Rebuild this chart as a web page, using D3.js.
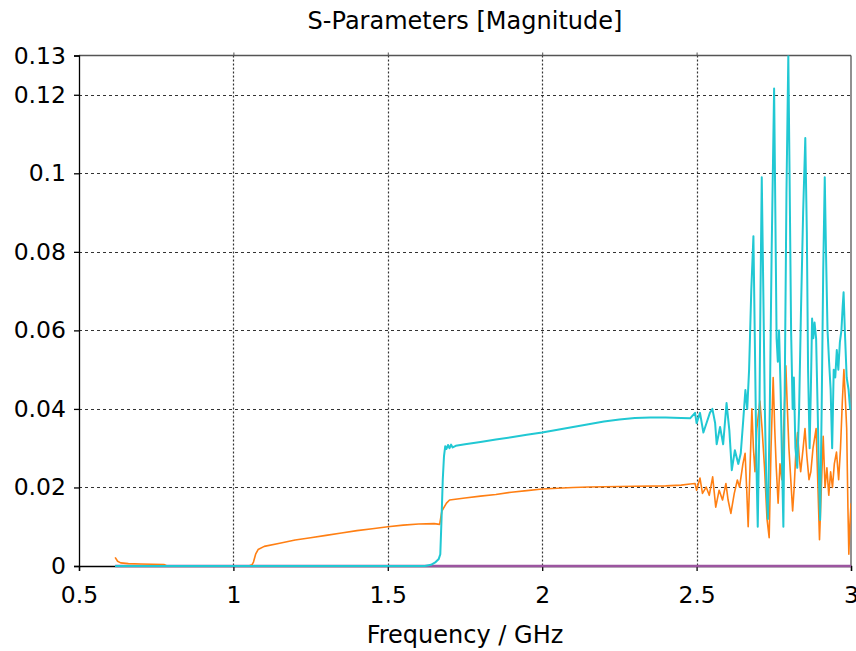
<!DOCTYPE html>
<html>
<head>
<meta charset="utf-8">
<script src="https://d3js.org/d3.v7.min.js"></script>
<style type="text/css">
body {margin:0;background:#fff;}
svg {display:block;font-family:"DejaVu Sans",Verdana,sans-serif;}
.grid line {stroke:#333;stroke-width:1.2;}
</style>
</head>
<body>
<svg id="chart" width="856" height="651"></svg>

<script type="text/javascript">
// frequency (GHz) and magnitude
var cyanFreq = [0.617,1.62,1.64,1.655,1.665,1.670,1.674,1.678,1.682,1.686,1.690,1.695,1.700,1.705,1.710,1.72,1.75,1.80,1.85,1.90,1.95,2.00,2.05,2.10,2.15,2.20,2.25,2.30,2.35,2.40,2.45,2.479,2.495,
	2.500,2.511,2.522,2.533,2.543,2.551,2.560,2.565,2.576,2.586,2.597,2.606,2.614,2.624,2.635,2.643,2.651,2.658,2.664,2.670,2.677,2.684,2.689,2.694,2.698,2.703,2.707,2.711,2.716,2.721,2.726,2.731,2.737,2.743,
	2.751,2.755,2.759,2.763,2.767,2.772,2.777,2.781,2.786,2.791,2.797,2.801,2.806,2.811,2.815,2.820,2.826,2.832,2.838,2.845,2.852,2.857,2.861,2.866,2.870,2.874,2.878,2.882,2.887,2.892,2.897,2.900,
	2.905,2.910,2.915,2.919,2.924,2.929,2.934,2.939,2.944,2.949,2.954,2.959,2.964,2.969,2.973,2.976,2.980,2.986,2.992,2.997,3.000];
var cyanMag = [0,0,0.0003,0.001,0.0018,0.003,0.012,0.022,0.028,0.0305,0.0298,0.0308,0.0300,0.0309,0.0302,0.0306,0.0310,0.0316,0.0322,0.0328,0.0334,0.0340,0.0347,0.0354,0.0361,0.0368,0.0373,0.0377,0.0378,0.0378,0.0377,0.0376,0.039,
	0.0364,0.039,0.034,0.0366,0.039,0.040,0.0364,0.031,0.0354,0.031,0.0415,0.0346,0.0244,0.0295,0.026,0.0287,0.0371,0.0448,0.040,0.050,0.070,0.084,0.055,0.025,0.010,0.035,0.070,0.099,0.070,0.040,0.020,0.012,0.040,0.080,
	0.1216,0.090,0.058,0.052,0.060,0.045,0.025,0.010,0.050,0.095,0.130,0.100,0.060,0.040,0.048,0.030,0.025,0.040,0.065,0.090,0.109,0.085,0.050,0.030,0.045,0.063,0.058,0.062,0.058,0.040,0.020,0.0117,
	0.040,0.075,0.099,0.080,0.060,0.052,0.045,0.030,0.050,0.048,0.055,0.050,0.057,0.060,0.066,0.0697,0.060,0.048,0.045,0.040,0.040];

var orangeFreq = [0.617,0.625,0.635,0.66,0.70,0.775,0.785,1.05,1.06,1.065,1.072,1.08,1.10,1.15,1.20,1.25,1.30,1.35,1.40,1.45,1.50,1.55,1.60,1.65,1.668,1.675,1.69,1.70,1.75,1.80,1.85,1.90,1.95,2.00,2.05,2.10,2.15,2.20,2.30,2.40,2.45,2.479,2.495,
	2.500,2.511,2.519,2.531,2.541,2.552,2.562,2.573,2.584,2.595,2.602,2.611,2.622,2.632,2.639,2.650,2.657,2.662,2.667,2.673,2.679,2.684,2.689,2.695,2.705,2.712,2.720,2.728,2.735,2.741,2.748,2.753,2.758,2.764,2.770,2.776,
	2.782,2.789,2.794,2.799,2.805,2.811,2.816,2.822,2.827,2.832,2.837,2.845,2.851,2.857,2.864,2.870,2.877,2.887,2.893,2.898,2.904,2.910,2.916,2.922,2.928,2.934,2.940,2.946,2.953,2.960,2.966,2.972,2.977,2.982,2.986,2.990,2.993,2.996,3.000];
var orangeMag = [0.0022,0.0012,0.0008,0.0006,0.0005,0.0004,0,0,0.0003,0.001,0.003,0.0042,0.0050,0.0058,0.0066,0.0072,0.0078,0.0084,0.0090,0.0095,0.0100,0.0104,0.0107,0.0108,0.0106,0.0140,0.0160,0.0168,0.0173,0.0178,0.0182,0.0188,0.0192,0.0196,0.0198,0.0200,0.0201,0.0202,0.0203,0.0204,0.0206,0.0209,0.0210,
	0.0193,0.0224,0.0185,0.0201,0.0180,0.0227,0.0150,0.0193,0.0168,0.0210,0.0168,0.0134,0.0185,0.0219,0.0201,0.0260,0.0287,0.020,0.010,0.025,0.040,0.030,0.024,0.035,0.042,0.035,0.025,0.012,0.0072,0.030,0.048,0.035,0.025,0.016,0.026,0.022,
	0.035,0.051,0.040,0.030,0.022,0.014,0.020,0.030,0.034,0.028,0.024,0.030,0.035,0.028,0.022,0.024,0.030,0.035,0.020,0.0067,0.020,0.033,0.020,0.025,0.018,0.024,0.020,0.026,0.029,0.022,0.030,0.042,0.050,0.042,0.035,0.015,0.003,0.010,0.016];

var purpleFreq = [0.617,3.0];
var purpleMag = [0,0];

var xTicks = [0.5,1,1.5,2,2.5,3];
var yTicks = [0,0.02,0.04,0.06,0.08,0.1,0.12,0.13];

var plotLeft = 79, plotRight = 851, plotTop = 55.5, plotBottom = 566;

var svg = d3.select("#chart");
var x = d3.scaleLinear().domain([0.5,3]).range([plotLeft,plotRight]);
var y = d3.scaleLinear().domain([0,0.13]).range([plotBottom,plotTop]);
var fmt = d3.format("~g");

// grid
svg.append("g").attr("class","grid")
	.selectAll("line").data(yTicks.filter(function(d){return d>0 && d<0.13;}))
	.enter().append("line")
	.attr("x1",plotLeft).attr("x2",plotRight)
	.attr("y1",function(d){return Math.round(y(d))+0.5;}).attr("y2",function(d){return Math.round(y(d))+0.5;})
	.attr("stroke-dasharray","3,3");
svg.append("g").attr("class","grid")
	.selectAll("line").data(xTicks.filter(function(d){return d>0.5 && d<3;}))
	.enter().append("line")
	.attr("y1",plotTop).attr("y2",plotBottom)
	.attr("x1",function(d){return Math.round(x(d))+0.5;}).attr("x2",function(d){return Math.round(x(d))+0.5;})
	.attr("stroke-dasharray","2,2");

// frame
svg.append("line").attr("x1",plotLeft).attr("x2",plotRight).attr("y1",plotTop).attr("y2",plotTop).attr("stroke","#555").attr("stroke-width",1.3);
svg.append("line").attr("x1",plotRight).attr("x2",plotRight).attr("y1",plotTop).attr("y2",plotBottom).attr("stroke","#555").attr("stroke-width",1.3);
svg.append("g").attr("transform","translate(0,"+plotTop+")")
	.call(d3.axisTop(x).tickValues(xTicks.slice(1,5)).tickSize(3).tickFormat(""))
	.call(function(g){g.select(".domain").remove();g.selectAll("line").attr("stroke","#555");});

svg.append("defs").append("clipPath").attr("id","plot")
	.append("rect").attr("x",plotLeft).attr("y",plotTop).attr("width",plotRight-plotLeft).attr("height",plotBottom-plotTop+3);

// axes
var yAxis = svg.append("g").attr("transform","translate("+plotLeft+",0)")
	.call(d3.axisLeft(y).tickValues(yTicks).tickSize(5).tickPadding(8).tickFormat(fmt));
var xAxis = svg.append("g").attr("transform","translate(0,"+plotBottom+")")
	.call(d3.axisBottom(x).tickValues(xTicks).tickSize(5).tickPadding(15).tickFormat(fmt));
[xAxis,yAxis].forEach(function(a){
	a.selectAll("text").attr("font-size",23.5).attr("font-family","DejaVu Sans").attr("fill","#000");
	a.selectAll("path,line").attr("stroke","#000").attr("stroke-width",1.3);
});

// series
var line = d3.line().x(function(d){return x(d[0]);}).y(function(d){return y(d[1]);});
var series = [
	{f:purpleFreq, m:purpleMag, color:"#9c55a0", w:2.6},
	{f:orangeFreq, m:orangeMag, color:"#ff7f13", w:1.6},
	{f:cyanFreq, m:cyanMag, color:"#21c8d3", w:2}
];
var plot = svg.append("g").attr("clip-path","url(#plot)");
series.forEach(function(s){
	plot.append("path")
		.datum(d3.zip(s.f,s.m))
		.attr("fill","none")
		.attr("stroke",s.color)
		.attr("stroke-width",s.w)
		.attr("stroke-linejoin","round")
		.attr("d",line);
});

// titles
svg.append("text").attr("x",465).attr("y",29).attr("text-anchor","middle")
	.attr("font-size",24).text("S-Parameters [Magnitude]");
svg.append("text").attr("x",465).attr("y",643).attr("text-anchor","middle")
	.attr("font-size",24).text("Frequency / GHz");
</script>
</body>
</html>
